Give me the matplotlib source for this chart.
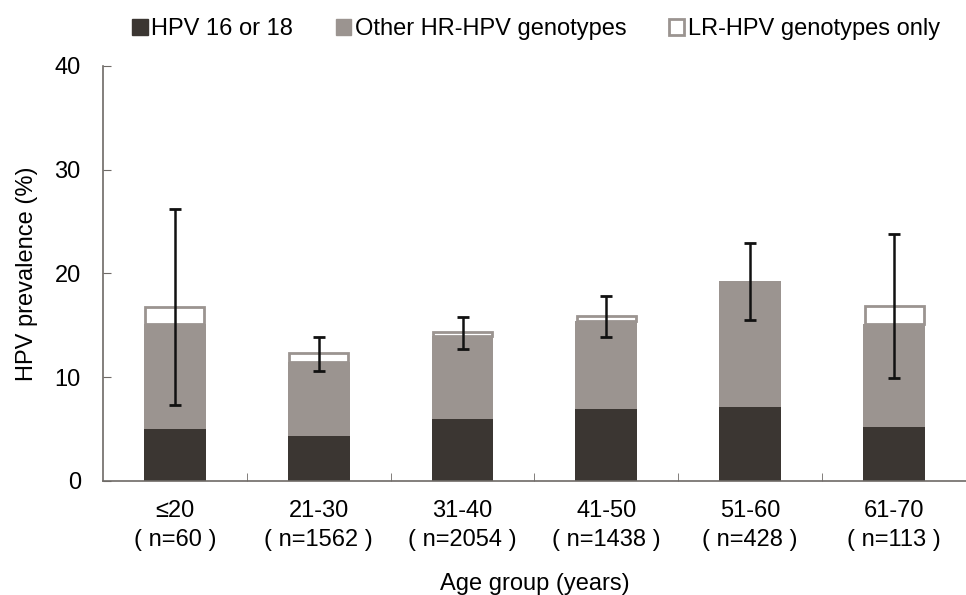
import numpy as np
import matplotlib
matplotlib.use("Agg")
import matplotlib.pyplot as plt
from matplotlib.patches import Patch

plt.rcParams['font.family'] = ['Liberation Sans', 'DejaVu Sans']

# data
groups = ["≤20\n( n=60 )", "21-30\n( n=1562 )", "31-40\n( n=2054 )",
          "41-50\n( n=1438 )", "51-60\n( n=428 )", "61-70\n( n=113 )"]
hpv16_18 = [4.97, 4.32, 5.94, 6.90, 7.10, 5.22]
other_hr = [10.18, 7.13, 8.06, 8.48, 12.15, 9.93]
lr_only = [1.62, 0.87, 0.32, 0.55, 0.00, 1.75]
ci_low = [7.3, 10.6, 12.7, 13.9, 15.5, 9.9]
ci_high = [26.2, 13.9, 15.8, 17.8, 22.9, 23.8]

dark = "#3b3632"
gray = "#9b9490"
spine_col = "#6e6a66"
fs = 17

x = np.arange(len(groups))
w = 0.43
bottom2 = np.array(hpv16_18)
bottom3 = bottom2 + np.array(other_hr)
total = bottom3 + np.array(lr_only)

fig = plt.figure(figsize=(9.66, 5.95), dpi=100)
ax = fig.add_axes([0.1066, 0.1916, 0.8934, 0.6975])

ax.bar(x, hpv16_18, w, color=dark, zorder=2)
ax.bar(x, other_hr, w, bottom=bottom2, color=gray, zorder=2)
lr_idx = [i for i, v in enumerate(lr_only) if v > 0]
ax.bar(x[lr_idx], np.array(lr_only)[lr_idx], w - 0.02, bottom=bottom3[lr_idx],
       color="white", edgecolor=gray, linewidth=2, zorder=2)

yerr = [total - np.array(ci_low), np.array(ci_high) - total]
ax.errorbar(x, total, yerr=yerr, fmt="none", ecolor="#111111", elinewidth=1.8,
            capsize=4.5, capthick=2, zorder=3)

ax.set_xlim(-0.5, 5.5)
ax.set_ylim(0, 40)
ax.set_yticks([0, 10, 20, 30, 40])
ax.set_xticks(x)
ax.set_xticklabels(groups, fontsize=fs, linespacing=1.4)
ax.set_xticks(np.arange(0.5, 5.5, 1), minor=True)
ax.tick_params(axis="x", which="major", length=0, pad=14)
ax.tick_params(axis="x", which="minor", direction="in", length=6, color=spine_col)
ax.tick_params(axis="y", direction="in", length=6, color=spine_col, labelsize=fs, pad=16)

for s in ["top", "right"]:
    ax.spines[s].set_visible(False)
for s in ["left", "bottom"]:
    ax.spines[s].set_color(spine_col)
    ax.spines[s].set_linewidth(1.2)

ax.set_ylabel("HPV prevalence (%)", fontsize=fs, labelpad=12)
ax.set_xlabel("Age group (years)", fontsize=fs, labelpad=16)

handles = [Patch(facecolor=dark, edgecolor=dark),
           Patch(facecolor=gray, edgecolor=gray),
           Patch(facecolor="white", edgecolor=gray, linewidth=2)]
fig.legend(handles, ["HPV 16 or 18", "Other HR-HPV genotypes", "LR-HPV genotypes only"],
           loc="center", bbox_to_anchor=(0.555, 0.951), ncol=3, frameon=False,
           fontsize=fs, handlelength=0.65, handleheight=0.65, handletextpad=0.15,
           columnspacing=1.8)

fig.savefig("out.png", dpi=100)
